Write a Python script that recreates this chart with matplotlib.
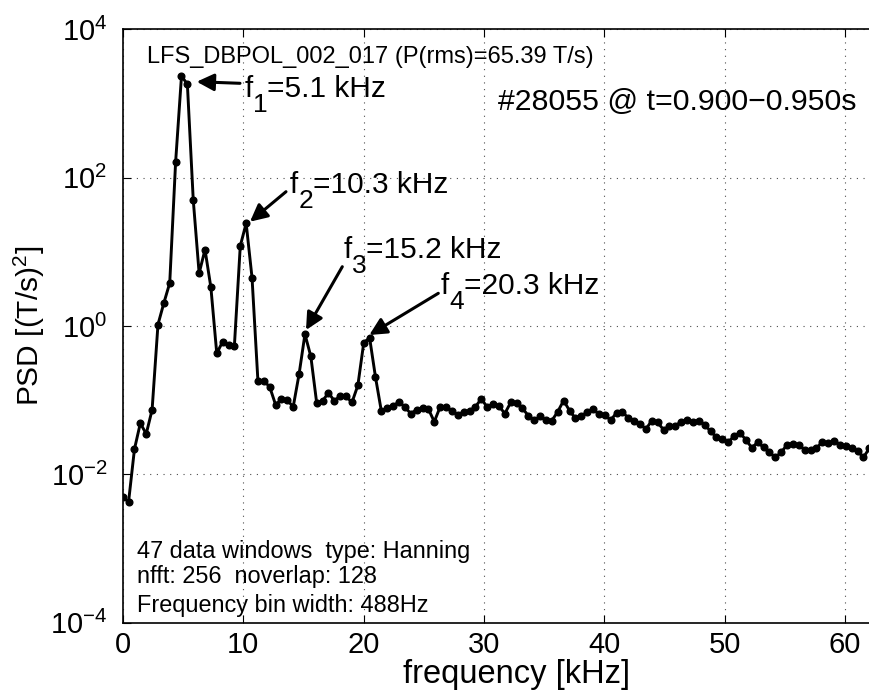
import numpy as np
import matplotlib
matplotlib.use("Agg")
import matplotlib.pyplot as plt
from matplotlib.ticker import NullLocator, FixedLocator

plt.rcParams['font.family'] = ['Liberation Sans', 'DejaVu Sans']
plt.rcParams['mathtext.fontset'] = 'custom'
plt.rcParams['mathtext.rm'] = 'Liberation Sans'
plt.rcParams['mathtext.it'] = 'Liberation Sans:italic'
plt.rcParams['mathtext.default'] = 'regular'

# ---- data ----
BIN_WIDTH_KHZ = 0.48828125  # 488 Hz frequency bins (nfft 256)
psd_log10 = [
    -2.31, -2.37, -1.66, -1.31, -1.455, -1.13, 0.02, 0.31, 0.58, 2.21,
    3.37, 3.26, 1.70, 0.71, 1.03, 0.52, -0.37, -0.21, -0.26, -0.265,
    1.08, 1.385, 0.65, -0.74, -0.74, -0.82, -1.06, -0.99, -1.00, -1.09,
    -0.65, -0.11, -0.41, -1.04, -1.01, -0.90, -1.01, -0.94, -0.95, -1.03,
    -0.80, -0.225, -0.16, -0.69, -1.15, -1.10, -1.08, -1.02, -1.095, -1.18,
    -1.13, -1.10, -1.12, -1.29, -1.09, -1.095, -1.14, -1.20, -1.155, -1.145,
    -1.09, -0.98, -1.095, -1.05, -1.08, -1.18, -1.03, -1.04, -1.11, -1.21,
    -1.27, -1.22, -1.27, -1.275, -1.155, -1.005, -1.14, -1.245, -1.22, -1.155,
    -1.12, -1.19, -1.20, -1.27, -1.17, -1.16, -1.24, -1.275, -1.32, -1.39,
    -1.275, -1.30, -1.40, -1.35, -1.345, -1.29, -1.265, -1.29, -1.275, -1.33,
    -1.42, -1.50, -1.525, -1.57, -1.48, -1.44, -1.535, -1.64, -1.57, -1.635,
    -1.705, -1.77, -1.705, -1.60, -1.59, -1.60, -1.67, -1.67, -1.65, -1.56,
    -1.58, -1.545, -1.60, -1.615, -1.65, -1.69, -1.77, -1.65,
]
freq_khz = np.arange(len(psd_log10)) * BIN_WIDTH_KHZ
psd = 10.0 ** np.array(psd_log10)

peak_names = ["f", "f", "f", "f"]
peak_subs = ["1", "2", "3", "4"]
peak_values = ["=5.1 kHz", "=10.3 kHz", "=15.2 kHz", "=20.3 kHz"]

xticks = [0, 10, 20, 30, 40, 50, 60]
yticks = [1e-4, 1e-2, 1e0, 1e2, 1e4]

title_text = "LFS_DBPOL_002_017 (P(rms)=65.39 T/s)"
shot_text = "#28055 @ t=0.900\u22120.950s"
info_lines = ["47 data windows  type: Hanning", "nfft: 256  noverlap: 128",
              "Frequency bin width: 488Hz"]

# ---- figure ----
W, H = 869, 691
fig = plt.figure(figsize=(W / 100, H / 100), dpi=100)
L, R, T, B = 122.7, 869.2, 29.3, 622.7
ax = fig.add_axes([L / W, (H - B) / H, (R - L) / W, (B - T) / H])

ax.plot(freq_khz, psd, color='k', lw=2.1, marker='o', ms=4.8, mfc='k', mec='k')
ax.set_yscale('log')
ax.set_xlim(0, 62)
ax.set_ylim(1e-4, 1e4)
ax.yaxis.set_major_locator(FixedLocator(yticks))
ax.yaxis.set_minor_locator(NullLocator())
ax.set_xticks(xticks)

ax.grid(True, which='major', color='0.3', linestyle=(0, (1, 5)), lw=0.8)
ax.tick_params(axis='both', which='major', direction='in', length=6, width=0.8,
               labelsize=21, top=True, right=False, pad=6)
ax.tick_params(axis='y', pad=11)
for s in ['left', 'bottom', 'top']:
    ax.spines[s].set_linewidth(1.2)
ax.spines['right'].set_visible(False)

fig.text(517 / W, 1 - 683 / H, "frequency [kHz]", fontsize=23.5, ha='center', va='baseline')
ax.set_ylabel("PSD [(T/s)$^{2}$]", fontsize=21.5, labelpad=2)


def px2data(px, py):
    x = (px - L) / ((R - L) / 62.0)
    ly = 4 - (py - T) / ((B - T) / 8.0)
    return x, 10 ** ly


renderer = fig.canvas.get_renderer()
FS_MAIN, FS_SUB, SUB_DROP = 21.5, 19, 15

text_px = [(244.3, 96.7), (290, 193.3), (343.3, 257.7), (441, 294)]
arrow_px = [((240, 83.3), (196.7, 81.7)), ((286, 191.7), (250, 221.7)),
            ((342.3, 266.7), (306, 330)), ((438.3, 293.3), (369.3, 335))]
for name, sub, val, (tx, ty), (tail, head) in zip(peak_names, peak_subs, peak_values,
                                                   text_px, arrow_px):
    t1 = fig.text(tx / W, 1 - ty / H, name, fontsize=FS_MAIN, ha='left', va='baseline')
    x1 = t1.get_window_extent(renderer).x1
    t2 = fig.text(x1 / W, 1 - (ty + SUB_DROP) / H, sub, fontsize=FS_SUB,
                  ha='left', va='baseline')
    x2 = t2.get_window_extent(renderer).x1
    fig.text(x2 / W, 1 - ty / H, val, fontsize=FS_MAIN, ha='left', va='baseline')
    ax.annotate('', xy=px2data(*head), xytext=px2data(*tail),
                arrowprops=dict(arrowstyle='-|>', color='k', lw=2.2,
                                mutation_scale=26, shrinkA=0, shrinkB=0))

ax.text(*px2data(146.7, 63.3), title_text, fontsize=17, ha='left', va='baseline')
ax.text(*px2data(498.3, 110), shot_text, fontsize=21.8, ha='left', va='baseline')
for line, by in zip(info_lines, [558.3, 583.3, 611.7]):
    ax.text(*px2data(136.7, by), line, fontsize=16.9, ha='left', va='baseline')

fig.savefig("out.png", dpi=100)
